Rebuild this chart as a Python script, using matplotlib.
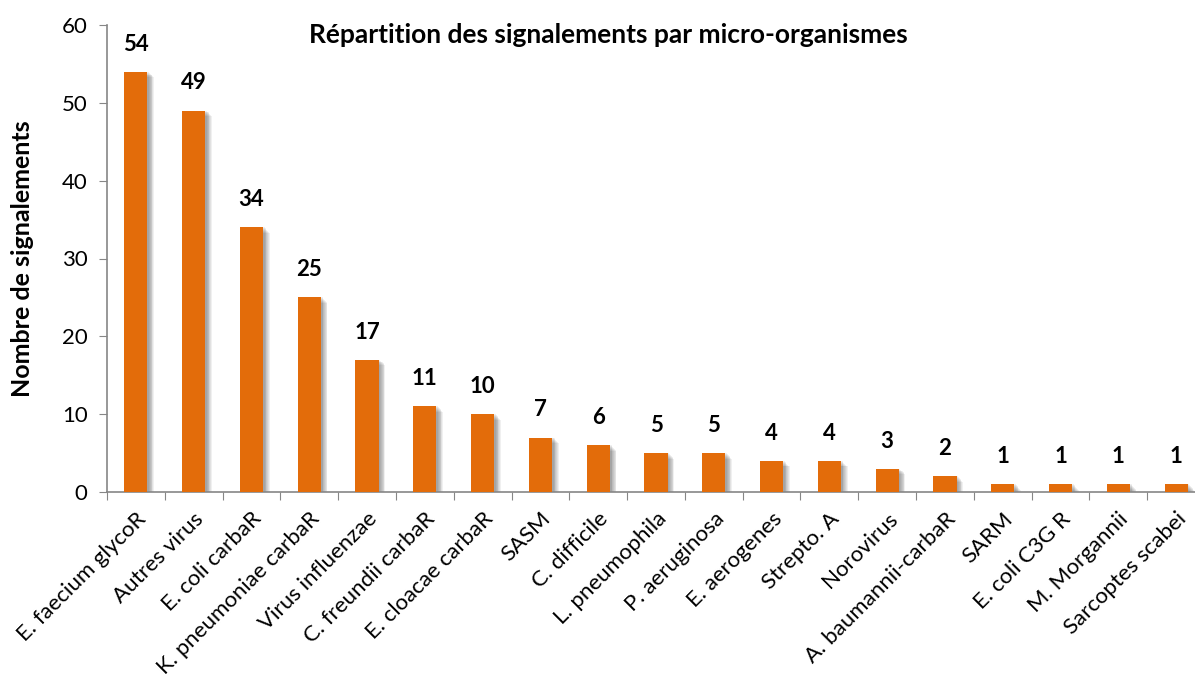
import numpy as np
import matplotlib.pyplot as plt

categories = ["E. faecium glycoR", "Autres virus", "E. coli carbaR", "K. pneumoniae carbaR",
              "Virus influenzae", "C. freundii carbaR", "E. cloacae carbaR", "SASM",
              "C. difficile", "L. pneumophila", "P. aeruginosa", "E. aerogenes",
              "Strepto. A", "Norovirus", "A. baumannii-carbaR", "SARM", "E. coli C3G R",
              "M. Morgannii", "Sarcoptes scabei"]
values = [54, 49, 34, 25, 17, 11, 10, 7, 6, 5, 5, 4, 4, 3, 2, 1, 1, 1, 1]

plt.rcParams['font.family'] = ['Lato', 'DejaVu Sans']

fig = plt.figure(figsize=(11.95, 6.77), dpi=100)
ax = fig.add_axes([107/1195, 1 - 492/677, 1098/1195, (492 - 25)/677])

x = np.arange(len(categories))
w = 0.4
# soft shadow behind the bars
for k in range(7):
    off = 0.03 + k * 0.014
    ax.bar(x + off, np.array(values) - 0.12 * k, width=w, color='#000000',
           alpha=0.06, zorder=1, linewidth=0)
ax.bar(x, values, width=w, color='#E36C0A', zorder=3, linewidth=0)

for xi, v in zip(x, values):
    ax.text(xi, v + 2.2, str(v), ha='center', va='bottom', fontsize=16,
            fontweight='bold', color='black')

ax.set_xlim(-0.5, len(categories) - 0.5)
ax.set_ylim(0, 60)
ax.set_yticks(range(0, 61, 10))
ax.set_xticks(np.arange(len(categories) + 1) - 0.5, minor=False)
ax.set_xticklabels([])
ax.set_xticks(x, minor=True)
ax.set_xticklabels(categories, minor=True, rotation=45, ha='right',
                   rotation_mode='anchor', fontsize=16)
ax.tick_params(axis='x', which='minor', length=0, pad=12)
ax.tick_params(axis='x', which='major', length=6, color='#868686', direction='out')
ax.tick_params(axis='y', length=6, color='#868686', labelsize=16, pad=8)

for s in ['top', 'right']:
    ax.spines[s].set_visible(False)
for s in ['left', 'bottom']:
    ax.spines[s].set_color('#868686')
    ax.spines[s].set_linewidth(1.2)

ax.set_ylabel('Nombre de signalements', fontsize=18, fontweight='bold', labelpad=20)
fig.text(608/1195, 1 - 35/677, 'Répartition des signalements par micro-organismes',
         ha='center', va='center', fontsize=19, fontweight='bold')

fig.savefig('out.png', dpi=100)
